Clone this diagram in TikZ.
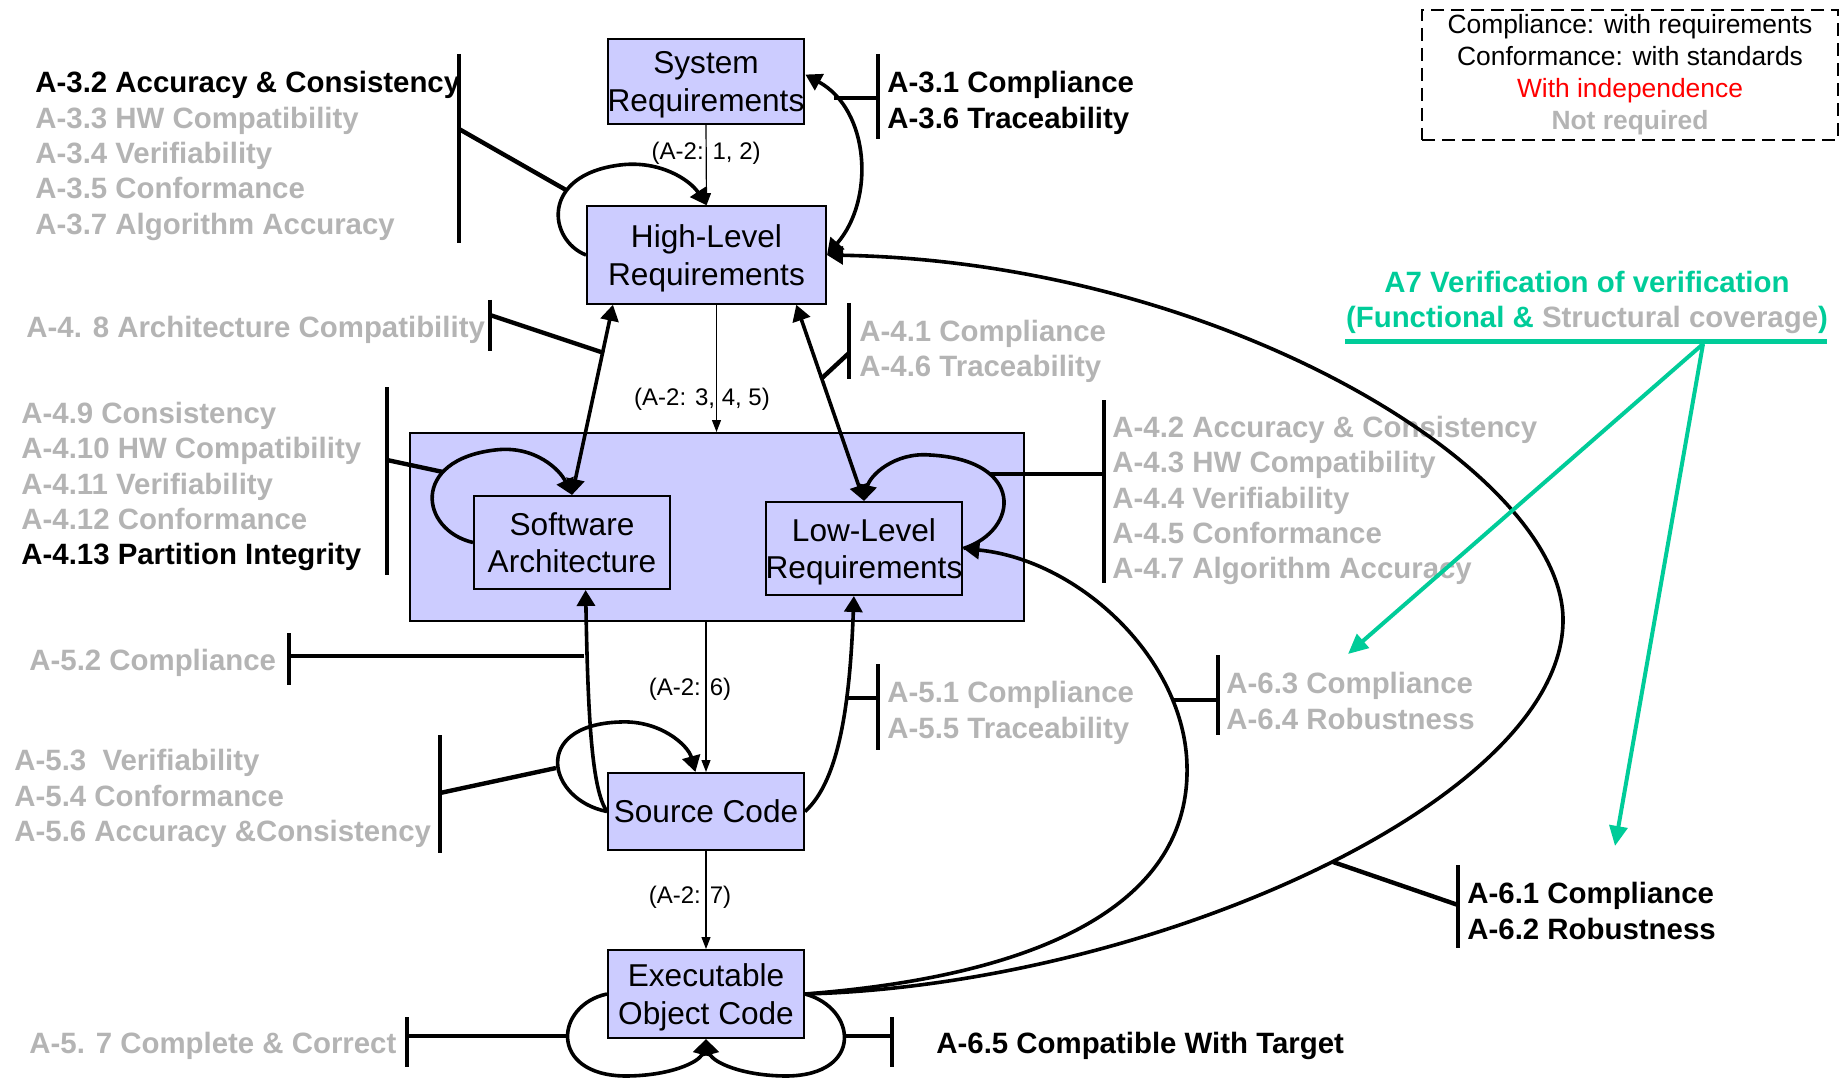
\documentclass[tikz,border=0pt]{standalone}
\usepackage{fontspec}
\setmainfont{Liberation Sans}
\usepackage{xcolor}
\usetikzlibrary{arrows.meta,positioning,calc}
\definecolor{reqfill}{HTML}{CCCCFF}
\definecolor{notreq}{HTML}{B4B4B4}
\definecolor{vvgreen}{HTML}{00CC99}
\newcommand{\req}[1]{\textcolor{black}{#1}}
\newcommand{\reqbar}[3]{\draw[bar] (#1,#2) -- (#1,#3);}

\begin{document}
\begin{tikzpicture}[
  x=0.5pt, y=-0.5pt,
  >={Triangle[length=8pt,width=9pt]},
  artefact/.style={draw, fill=reqfill, line width=1pt, inner sep=0pt, align=center, text depth=0pt, font=\fontsize{15.8}{18.8}\selectfont},
  obj/.style={font=\bfseries\fontsize{14.7}{17.7}\selectfont, text=notreq, align=left, anchor=west, inner sep=0pt},
  flow/.style={-{Triangle[length=6pt,width=4.5pt]}, line width=0.6pt},
  flowlbl/.style={font=\fontsize{12}{14}\selectfont, inner sep=0pt},
  trace/.style={line width=1.8pt},
  bar/.style={line width=2.2pt},
  vv/.style={vvgreen, line width=2pt, -{Triangle[length=10pt,width=9pt]}},
]
\useasboundingbox (0,0) rectangle (1840,1080);
% artefacts
\node[artefact, minimum width=98pt, minimum height=42.5pt] (sys) at (706,81.5) {System\\Requirements};
\node[artefact, minimum width=119.5pt, minimum height=48.75pt] (hlr) at (706.5,255) {High-Level\\Requirements};
\node[artefact, minimum width=307pt, minimum height=94pt] (pkg) at (716.5,527) {};
\node[artefact, minimum width=98pt, minimum height=46.5pt] (swa) at (572,542.5) {Software\\Architecture};
\node[artefact, minimum width=98pt, minimum height=46.5pt] (llr) at (864,548.5) {Low-Level\\Requirements};
\node[artefact, minimum width=98pt, minimum height=38.5pt] (src) at (706,811.5) {Source Code};
\node[artefact, minimum width=98pt, minimum height=44pt] (eoc) at (706,994) {Executable\\Object Code};
% legend
\node[draw, dash pattern=on 6.5pt off 3.5pt, line width=1.2pt, minimum width=208pt, minimum height=65pt,
  align=center, inner sep=0pt, font=\fontsize{13.2}{16}\selectfont] (key) at (1630,75)
  {Compliance: with requirements\\Conformance: with standards\\\textcolor{red}{With independence}\\\textcolor{notreq}{\bfseries Not required}};
% objectives
\node[obj] (a32) at (35,156) {\req{A-3.2 Accuracy \& Consistency}\\A-3.3 HW Compatibility\\A-3.4 Verifiability\\A-3.5 Conformance\\A-3.7 Algorithm Accuracy};
\node[obj, text=black] (a31) at (887,103) {A-3.1 Compliance\\A-3.6 Traceability};
\node[obj] (a48) at (26,330) {A-4. 8 Architecture Compatibility};
\node[obj] (a41) at (859,351.5) {A-4.1 Compliance\\A-4.6 Traceability};
\node[obj] (a49) at (21,486.5) {A-4.9 Consistency\\A-4.10 HW Compatibility\\A-4.11 Verifiability\\A-4.12 Conformance\\\req{A-4.13 Partition Integrity}};
\node[obj] (a42) at (1112,500.5) {A-4.2 Accuracy \& Consistency\\A-4.3 HW Compatibility\\A-4.4 Verifiability\\A-4.5 Conformance\\A-4.7 Algorithm Accuracy};
\node[obj] (a52) at (29,662.5) {A-5.2 Compliance};
\node[obj] (a51) at (887,713) {A-5.1 Compliance\\A-5.5 Traceability};
\node[obj] (a63) at (1226,701) {A-6.3 Compliance\\A-6.4 Robustness};
\node[obj] (a53) at (14,798.6) {A-5.3~ Verifiability\\A-5.4 Conformance\\A-5.6 Accuracy \&Consistency};
\node[obj, text=black] (a61) at (1467,911) {A-6.1 Compliance\\A-6.2 Robustness};
\node[obj] (a57) at (29,1046) {A-5. 7 Complete \& Correct};
\node[obj, text=black] (a65) at (936,1046) {A-6.5 Compatible With Target};
\node[font=\bfseries\fontsize{14.7}{17.5}\selectfont, text=vvgreen, align=center, inner sep=0pt] (a7) at (1587,302)
  {A7 Verification of verification\\(Functional \& \textcolor{notreq}{Structural coverage})};
% development flow
\draw[flow] (sys.south) -- node[flowlbl, pos=.35]{(A-2: 1, 2)} (hlr.north);
\draw[flow] (hlr.south -| pkg.north) -- node[flowlbl, pos=.74, xshift=-7.25pt]{(A-2: 3, 4, 5)} (pkg.north);
\draw[flow] (pkg.south -| src.north) -- node[flowlbl, pos=.45, xshift=-8pt]{(A-2: 6)} (src.north);
\draw[flow] (src.south) -- node[flowlbl, pos=.47, xshift=-8pt]{(A-2: 7)} (eoc.north);
% verification links
\draw[trace, <->] (hlr.east) .. controls (875,200) and (870,110) .. (sys.4);
\draw[trace, ->] (hlr.west) .. controls (548,240) and (540,175) .. (620,165) .. controls (660,160) and (690,180) .. (hlr.north);
\draw[trace, <->] (hlr.208) -- (swa.north);
\draw[trace, <->] (hlr.331) -- (llr.north);
\draw[trace, ->] (swa.west) .. controls (420,530) and (410,460) .. (495,450) .. controls (535,445) and (560,470) .. (swa.north);
\draw[trace, ->] (llr.east) .. controls (1020,530) and (1025,460) .. (930,455) .. controls (895,452) and (870,475) .. (llr.north);
\draw[trace, ->] (src.west) .. controls (592,790) and (588,720) .. (swa.286);
\draw[trace, ->] (src.east) .. controls (840,780) and (850,700) .. (llr.258);
\draw[trace, ->] (src.west) .. controls (548,800) and (530,725) .. (620,722) .. controls (660,720) and (688,745) .. (src.105);
\draw[trace, ->] (eoc.west) .. controls (555,1005) and (548,1075) .. (625,1076) .. controls (670,1076) and (700,1062) .. (eoc.south);
\draw[trace, ->] (eoc.east) .. controls (857,1008) and (864,1075) .. (787,1076) .. controls (742,1076) and (712,1062) .. (eoc.south);
\draw[trace, ->] (eoc.east) .. controls (1050,975) and (1190,900) .. (1187,766) .. controls (1185,660) and (1080,560) .. (llr.east);
\draw[trace, ->] (eoc.east) .. controls (1150,985) and (1563,800) .. (1563,620) .. controls (1563,470) and (1220,262) .. (hlr.east);
% objective bars
\reqbar{459}{54}{243}
\reqbar{878}{54}{139}
\reqbar{490}{300}{351}
\reqbar{849}{303}{379}
\reqbar{387}{387}{575}
\reqbar{1104}{400}{583}
\reqbar{289}{633}{685}
\reqbar{878}{664}{750}
\reqbar{440}{735}{853}
\reqbar{1218}{655}{735}
\reqbar{1458}{865}{948}
\reqbar{407}{1017}{1067}
\reqbar{892}{1017}{1067}
% bar stubs
\coordinate (k32) at (459,129); \coordinate (t32) at (566,190);
\coordinate (k31) at (878,98);  \coordinate (t31) at (834,98);
\coordinate (k48) at (490,315); \coordinate (t48) at (604,353);
\coordinate (k41) at (849,353); \coordinate (t41) at (821,379);
\coordinate (k49) at (387,460); \coordinate (t49) at (443,472);
\coordinate (k42) at (1104,474); \coordinate (t42) at (990,474);
\coordinate (k52) at (289,656); \coordinate (t52) at (584,656);
\coordinate (k51) at (878,698); \coordinate (t51) at (848,698);
\coordinate (k53) at (440,793); \coordinate (t53) at (556,768);
\coordinate (k63) at (1218,700); \coordinate (t63) at (1174,700);
\coordinate (k61) at (1458,905); \coordinate (t61) at (1333,862);
\coordinate (k57) at (407,1036); \coordinate (t57) at (567,1036);
\coordinate (k65) at (892,1036); \coordinate (t65) at (845,1036);
\draw[bar] (k32) -- (t32); \draw[bar] (k31) -- (t31);
\draw[bar] (k48) -- (t48); \draw[bar] (k41) -- (t41);
\draw[bar] (k49) -- (t49); \draw[bar] (k42) -- (t42);
\draw[bar] (k52) -- (t52); \draw[bar] (k51) -- (t51);
\draw[bar] (k53) -- (t53); \draw[bar] (k63) -- (t63);
\draw[bar] (k61) -- (t61); \draw[bar] (k57) -- (t57);
\draw[bar] (k65) -- (t65);
% A7 coverage
\coordinate (ulw) at (1345,342); \coordinate (ule) at (1827,342);
\coordinate (a7o) at (1703,344);
\coordinate (a7p) at (1348,654); \coordinate (a7q) at (1615,846);
\draw[vvgreen, line width=2.5pt] (ulw) -- (ule);
\draw[vv] (a7o) -- (a7p);
\draw[vv] (a7o) -- (a7q);
\end{tikzpicture}
\end{document}
